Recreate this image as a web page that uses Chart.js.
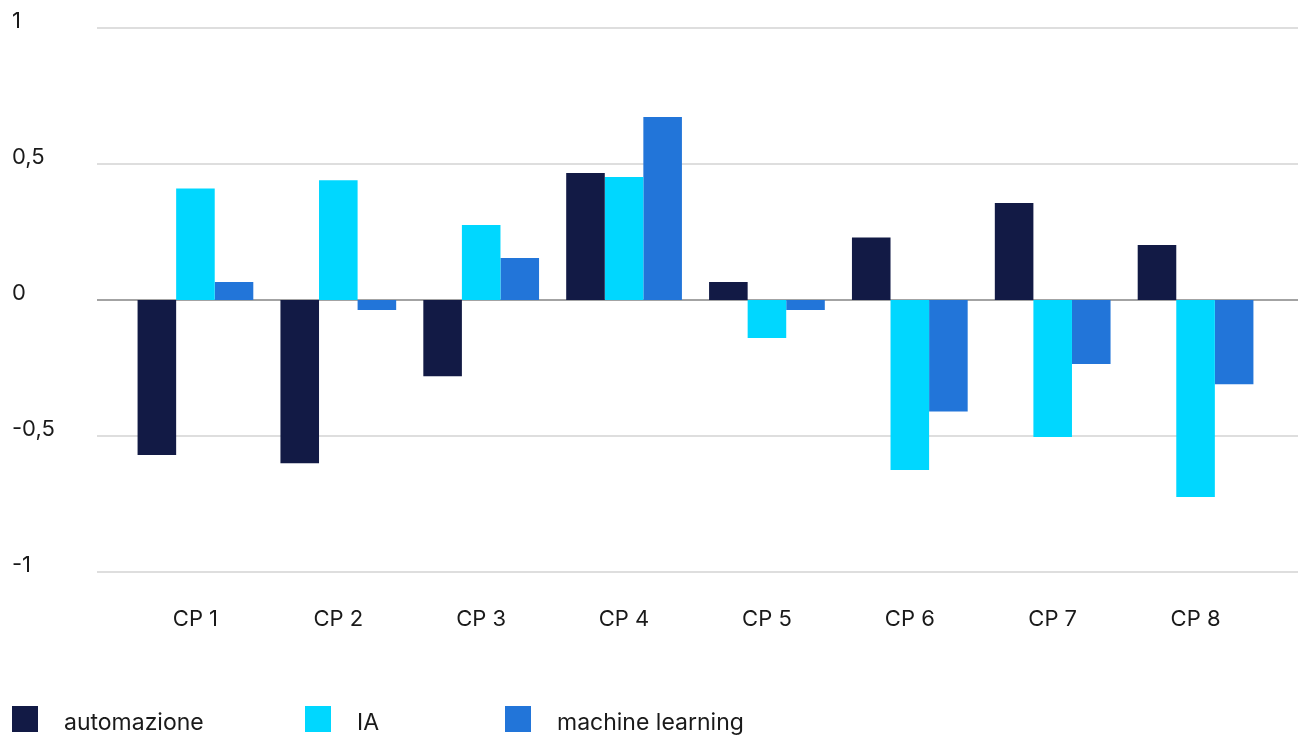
<!DOCTYPE html>
<html>
<head>
<meta charset="utf-8">
<script src="https://cdn.jsdelivr.net/npm/chart.js@4/dist/chart.umd.min.js"></script>
<style>
  html, body { margin: 0; padding: 0; background: #fff; }
  #wrap { width: 1298px; height: 735px; position: relative; }
</style>
</head>
<body>
<div id="wrap"><canvas id="grafico"></canvas></div>
<script>
const categories = ["CP 1", "CP 2", "CP 3", "CP 4", "CP 5", "CP 6", "CP 7", "CP 8"];
const automazione = [-0.57, -0.60, -0.28, 0.467, 0.066, 0.23, 0.357, 0.202];
const ia = [0.41, 0.44, 0.276, 0.452, -0.14, -0.625, -0.504, -0.724];
const machineLearning = [0.066, -0.037, 0.154, 0.673, -0.037, -0.41, -0.235, -0.31];
const seriesNames = ["automazione", "IA", "machine learning"];
const colors = ["#121a45", "#00d7ff", "#2275d9"];

const font = "Inter, 'Noto Sans', sans-serif";

// grid lines run wider than the category area, so draw them ourselves
const gridPlugin = {
    id: 'wideGrid',
    beforeDatasetsDraw(chart) {
        const ctx = chart.ctx;
        const y = chart.scales.y;
        ctx.save();
        for (const t of y.ticks) {
            const py = Math.round(y.getPixelForValue(t.value));
            ctx.strokeStyle = t.value === 0 ? '#a3a3a3' : '#dedede';
            ctx.lineWidth = 2;
            ctx.beginPath();
            ctx.moveTo(97, py);
            ctx.lineTo(1298, py);
            ctx.stroke();
        }
        ctx.restore();
    }
};

const legendPlugin = {
    id: 'bottomLegend',
    afterDraw(chart) {
        const ctx = chart.ctx;
        const boxX = [12, 305, 505];
        ctx.save();
        ctx.font = `23px ${font}`;
        ctx.textBaseline = 'alphabetic';
        chart.data.datasets.forEach((ds, i) => {
            ctx.fillStyle = ds.backgroundColor;
            ctx.fillRect(boxX[i], 706, 26, 26);
            ctx.fillStyle = '#1a1a1a';
            ctx.fillText(ds.label, boxX[i] + 52, 730);
        });
        ctx.restore();
    }
};

new Chart("grafico", {
    type: "bar",
    data: {
        labels: categories,
        datasets: [
            { label: seriesNames[0], data: automazione, backgroundColor: colors[0] },
            { label: seriesNames[1], data: ia, backgroundColor: colors[1] },
            { label: seriesNames[2], data: machineLearning, backgroundColor: colors[2] }
        ]
    },
    options: {
        responsive: true,
        maintainAspectRatio: false,
        animation: false,
        categoryPercentage: 0.81,
        barPercentage: 1,
        layout: { padding: { left: 12, right: 31, top: 28, bottom: 0 } },
        plugins: {
            legend: { display: false },
            tooltip: { enabled: false }
        },
        scales: {
            x: {
                grid: { display: false, drawTicks: false },
                border: { display: false },
                ticks: {
                    color: '#1a1a1a',
                    font: { family: font, size: 22 },
                    padding: 34,
                    maxRotation: 0
                },
                afterFit(scale) { scale.height = 163; }
            },
            y: {
                min: -1,
                max: 1,
                grid: { display: false, drawTicks: false },
                border: { display: false },
                ticks: {
                    stepSize: 0.5,
                    crossAlign: 'far',
                    labelOffset: -7,
                    color: '#1a1a1a',
                    font: { family: font, size: 22 },
                    callback: v => String(v).replace('.', ',')
                },
                afterFit(scale) { scale.width = 112; }
            }
        }
    },
    plugins: [gridPlugin, legendPlugin]
});
</script>
</body>
</html>
